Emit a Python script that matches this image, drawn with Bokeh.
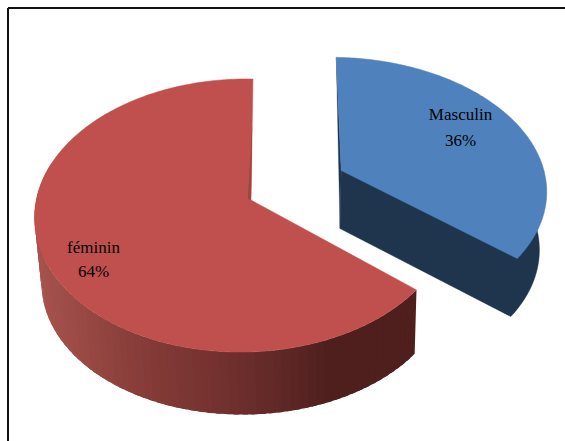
import math
from bokeh.core.properties import value
from bokeh.embed import file_html
from bokeh.models import ColumnDataSource, Range1d
from bokeh.plotting import figure
from bokeh.resources import INLINE

# Share of respondents by sex
categories = ["Masculin", "féminin"]
shares = [36, 64]

TOP_COLORS = ["#4f81bd", "#c0504d"]
BLUE_SIDE = "#1f344d"
RED_SHADE_STOPS = [(0.0, (166, 82, 77)), (0.35, (134, 60, 56)), (0.7, (108, 46, 44)), (1.0, (78, 31, 29))]

W, H = 565, 441

# Perspective model of each slice: apex, half-axes, depth foreshortening,
# sideways foreshortening, shear, and the offset and scale of the lower rim.
FEMALE_VIEW = dict(cx=250.5, cy=199.5, b=207, a=134.7, k=0.1136, m=0.036, s=-2.2,
                   drop=66, dx=2, sx=0.977, sy=0.977)
MALE_VIEW = dict(cx=340.7, cy=170.0, b=208.8, a=129.0, k=0.14, m=0.03, s=5.6,
                 drop=58, dx=-1.2, sx=0.97, sy=1.0)


def rim(view, turn, lower=False):
    """Screen position of the pie rim at a clockwise turn (radians) from the top."""
    u, v = math.sin(turn), -math.cos(turn)
    d = 1 - view["k"] * v + view["m"] * u
    x = (view["b"] * u + view["s"] * v) / d
    y = view["a"] * v / d
    if lower:
        return (view["cx"] + view["dx"] + view["sx"] * x, view["cy"] + view["drop"] + view["sy"] * y)
    return (view["cx"] + x, view["cy"] + y)


def arc(view, t0, t1, lower=False, n=160):
    return [rim(view, t0 + (t1 - t0) * i / n, lower) for i in range(n + 1)]


def shade(f):
    for (f0, c0), (f1, c1) in zip(RED_SHADE_STOPS, RED_SHADE_STOPS[1:]):
        if f <= f1:
            w = (f - f0) / (f1 - f0)
            return "#%02x%02x%02x" % tuple(round(a + (b - a) * w) for a, b in zip(c0, c1))
    return "#4e1f1d"


total = sum(shares)
split = 2 * math.pi * shares[0] / total
full = 2 * math.pi

p = figure(width=W, height=H, x_range=Range1d(0, W), y_range=Range1d(H, 0),
           toolbar_location=None, output_backend="svg", min_border=0,
           outline_line_color=None, background_fill_color="white", border_fill_color="white")
p.axis.visible = False
p.grid.visible = False

# Chart frame: only the top and left edges are inked
p.line([7.5, W], [7.5, 7.5], line_color="#111111", line_width=2)
p.line([7.5, 7.5], [7.5, H], line_color="#111111", line_width=2)

# Masculin: silhouette of the walls as one dark shape, then the top face
m_up = arc(MALE_VIEW, 0, split)
m_low = arc(MALE_VIEW, 0, split, lower=True)
m_apex = (MALE_VIEW["cx"], MALE_VIEW["cy"])
m_apex_low = (m_apex[0] + MALE_VIEW["dx"], m_apex[1] + MALE_VIEW["drop"])
wall = [m_apex_low] + m_low[:59:-1] + [m_up[60], m_apex]
p.patch([q[0] for q in wall], [q[1] for q in wall], fill_color=BLUE_SIDE, line_color=BLUE_SIDE, line_width=0.5)
cut = [m_up[0], m_apex, m_apex_low]
p.patch([q[0] for q in cut], [q[1] for q in cut], fill_color=BLUE_SIDE, line_color=BLUE_SIDE, line_width=0.3)
wedge = [m_apex] + m_up
p.patch([q[0] for q in wedge], [q[1] for q in wedge], fill_color=TOP_COLORS[0], line_color=TOP_COLORS[0], line_width=0.5)

# féminin: shaded outer wall as overlapping strips, stopping past the
# leftmost point where the wall disappears behind the top face
r_turn0, r_turn1 = split, math.radians(285)
strips = 70
step = (r_turn1 - r_turn0) / strips
xs, ys, colors = [], [], []
left_x, right_x = 38.0, 330.0
for i in range(strips):
    t0 = r_turn0 + step * i
    seg_up = arc(FEMALE_VIEW, t0, t0 + step * 1.6, n=3)
    seg_low = arc(FEMALE_VIEW, t0, t0 + step * 1.6, lower=True, n=3)
    outline = seg_up + seg_low[::-1]
    xs.append([q[0] for q in outline])
    ys.append([q[1] for q in outline])
    mid = rim(FEMALE_VIEW, t0 + step / 2)[0]
    colors.append(shade(min(1.0, max(0.0, (mid - left_x) / (right_x - left_x)))))
p.patches(xs, ys, fill_color=colors, line_color=None)

r_up = arc(FEMALE_VIEW, split, full, n=240)
f_apex = (FEMALE_VIEW["cx"], FEMALE_VIEW["cy"])
wedge = [f_apex] + r_up
p.patch([q[0] for q in wedge], [q[1] for q in wedge], fill_color=TOP_COLORS[1], line_color=TOP_COLORS[1], line_width=0.5)

# Thin darker sliver of the cut wall seen along the upper edge
top_rim = r_up[-1]
w = 0.38
sl = [(top_rim[0] + (f_apex[0] - top_rim[0]) * w, top_rim[1] + (f_apex[1] - top_rim[1]) * w),
      f_apex, (f_apex[0] - 3.2, f_apex[1] - 1)]
p.patch([q[0] for q in sl], [q[1] for q in sl], fill_color="#9f4540", line_color=None)

# Slice labels
labels = ColumnDataSource(dict(
    x=[460, 460, 93, 93],
    y=[114, 140, 247, 271],
    t=[categories[0], f"{shares[0]}%", categories[1], f"{shares[1]}%"],
))
p.text("x", "y", text="t", source=labels, text_font=value("Liberation Serif"),
       text_font_size="17px", text_color="#000000", text_align="center", text_baseline="middle")

open("out.html", "w").write(file_html(p, INLINE))
